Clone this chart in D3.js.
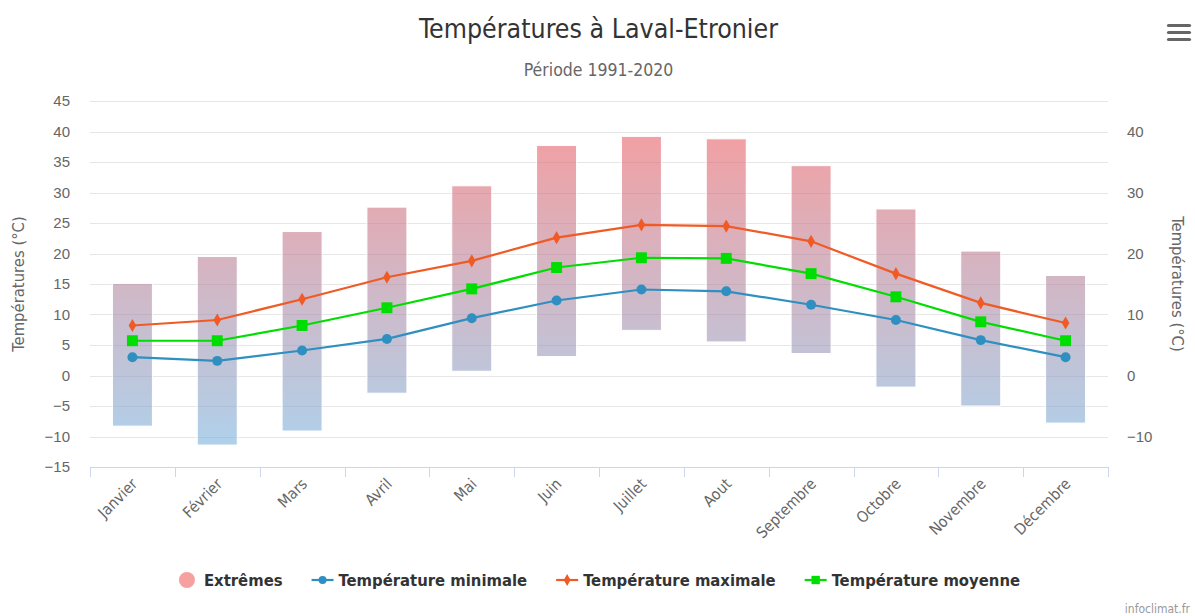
<!DOCTYPE html>
<html>
<head>
<meta charset="utf-8">
<script src="https://cdn.jsdelivr.net/npm/d3@7"></script>
<style>
  body { margin: 0; background: #fff; }
  svg { display: block; font-family: "DejaVu Sans Condensed", "DejaVu Sans", sans-serif; }
</style>
</head>
<body>
<script>
const months = ['Janvier', 'Février', 'Mars', 'Avril', 'Mai', 'Juin', 'Juillet', 'Aout', 'Septembre', 'Octobre', 'Novembre', 'Décembre'];
const extremeLow = [-8.3, -11.4, -9.1, -2.9, 0.7, 3.1, 7.4, 5.5, 3.6, -1.9, -5.0, -7.8];
const extremeHigh = [15.1, 19.5, 23.6, 27.6, 31.1, 37.7, 39.2, 38.8, 34.4, 27.3, 20.4, 16.4];
const tMin = [3.0, 2.4, 4.1, 6.0, 9.4, 12.3, 14.1, 13.8, 11.6, 9.1, 5.8, 3.0];
const tMax = [8.2, 9.1, 12.5, 16.1, 18.8, 22.6, 24.7, 24.5, 22.0, 16.7, 11.9, 8.6];
const tMoy = [5.7, 5.7, 8.2, 11.1, 14.2, 17.7, 19.3, 19.2, 16.7, 12.9, 8.8, 5.7];
const leftTicks = d3.range(-15, 46, 5);
const rightTicks = d3.range(-10, 41, 10);

const W = 1195, H = 616;
const m = {left: 90, right: 1108, top: 101, bottom: 467};

const svg = d3.select('body').append('svg')
  .attr('width', W)
  .attr('height', H);

const x = d3.scaleBand(months, [m.left, m.right]);
const y = d3.scaleLinear([-15, 45], [m.bottom, m.top]);

// gradient for the extremes columns
const grad = svg.append('defs').append('linearGradient')
  .attr('id', 'extGrad')
  .attr('gradientUnits', 'userSpaceOnUse')
  .attr('x1', 0).attr('x2', 0)
  .attr('y1', y(42)).attr('y2', y(-13));
grad.append('stop').attr('offset', 0).attr('stop-color', 'rgb(238,92,96)');
grad.append('stop').attr('offset', 1).attr('stop-color', 'rgb(118,180,225)');

// title
svg.append('text')
  .attr('x', W / 2 + 1).attr('y', 38)
  .attr('text-anchor', 'middle')
  .style('font-size', '26.5px').style('fill', '#333')
  .text('Températures à Laval-Etronier');
svg.append('text')
  .attr('x', W / 2 + 1).attr('y', 76)
  .attr('text-anchor', 'middle')
  .style('font-size', '17.5px').style('fill', '#666')
  .text('Période 1991-2020');

// gridlines
svg.append('g')
  .selectAll('line')
  .data(leftTicks.filter(d => d > -15))
  .enter().append('line')
    .attr('x1', m.left).attr('x2', m.right)
    .attr('y1', d => Math.round(y(d)) + 0.5)
    .attr('y2', d => Math.round(y(d)) + 0.5)
    .style('stroke', '#e6e6e6');

// left axis
const yLeft = svg.append('g')
  .attr('transform', `translate(${m.left - 20},0)`)
  .call(d3.axisLeft(y).tickValues(leftTicks).tickSize(0).tickPadding(0));
yLeft.select('.domain').remove();
yLeft.selectAll('text').style('font-size', '15px').style('fill', '#666').style('font-family', null);

// right axis
const yRight = svg.append('g')
  .attr('transform', `translate(${m.right + 19},0)`)
  .call(d3.axisRight(y).tickValues(rightTicks).tickSize(0).tickPadding(0));
yRight.select('.domain').remove();
yRight.selectAll('text').style('font-size', '15px').style('fill', '#666').style('font-family', null);

svg.append('text')
  .attr('transform', `translate(24,${(m.top + m.bottom) / 2}) rotate(-90)`)
  .attr('text-anchor', 'middle')
  .style('font-size', '16.5px').style('fill', '#666')
  .text('Températures (°C)');
svg.append('text')
  .attr('transform', `translate(1172,${(m.top + m.bottom) / 2}) rotate(90)`)
  .attr('text-anchor', 'middle')
  .style('font-size', '16.5px').style('fill', '#666')
  .text('Températures (°C)');

// x axis
const xAxis = svg.append('g')
  .attr('transform', `translate(0,${m.bottom})`);
xAxis.append('line')
  .attr('x1', m.left).attr('x2', m.right)
  .attr('y1', 0.5).attr('y2', 0.5)
  .style('stroke', '#ccd6eb');
xAxis.selectAll('line.tick')
  .data(months.map(d => x(d)).concat([m.right]))
  .enter().append('line')
    .attr('class', 'tick')
    .attr('x1', d => Math.round(d) + 0.5).attr('x2', d => Math.round(d) + 0.5)
    .attr('y1', 0).attr('y2', 10)
    .style('stroke', '#ccd6eb');
xAxis.selectAll('text')
  .data(months)
  .enter().append('text')
    .attr('transform', d => `translate(${x(d) + x.bandwidth() / 2 + 6},${18}) rotate(-45)`)
    .attr('text-anchor', 'end')
    .style('font-size', '15.5px').style('fill', '#666')
    .text(d => d);

// extremes columns
const barW = 40;
svg.append('g')
  .selectAll('rect')
  .data(months)
  .enter().append('rect')
    .attr('x', d => x(d) + x.bandwidth() / 2 - barW / 2)
    .attr('width', barW)
    .attr('y', (d, i) => y(extremeHigh[i]))
    .attr('height', (d, i) => y(extremeLow[i]) - y(extremeHigh[i]))
    .style('fill', 'url(#extGrad)')
    .style('fill-opacity', 0.6)
    .style('stroke', '#fff')
    .style('stroke-width', 1);

// lines
const cx = d => x(d) + x.bandwidth() / 2;
const series = [
  {name: 'Température minimale', values: tMin, color: '#2f8fc0', marker: 'circle'},
  {name: 'Température maximale', values: tMax, color: '#f05a24', marker: 'diamond'},
  {name: 'Température moyenne', values: tMoy, color: '#00dd00', marker: 'square'}
];
const symbolPath = {
  circle: d3.symbol(d3.symbolCircle, 78),
  diamond: d3.symbol(d3.symbolDiamond, 50),
  square: d3.symbol(d3.symbolSquare, 120)
};
const line = d3.line()
  .x((d, i) => cx(months[i]))
  .y(d => y(d));

series.forEach(s => {
  const g = svg.append('g');
  g.append('path')
    .attr('d', line(s.values))
    .style('fill', 'none')
    .style('stroke', s.color)
    .style('stroke-width', 2.2);
  g.selectAll('path.pt')
    .data(s.values)
    .enter().append('path')
      .attr('class', 'pt')
      .attr('transform', (d, i) => `translate(${cx(months[i])},${y(d)})`)
      .attr('d', symbolPath[s.marker])
      .style('fill', s.color);
});

// legend
const legend = svg.append('g');
const items = [{name: 'Extrêmes', color: 'rgb(246,160,160)', marker: 'bubble'}].concat(series);
let lx = 0;
items.forEach(s => {
  const it = legend.append('g').attr('transform', `translate(${lx},0)`);
  let tx;
  if (s.marker === 'bubble') {
    it.append('circle').attr('cx', 8).attr('cy', 0).attr('r', 8).style('fill', s.color);
    tx = 25;
  } else {
    it.append('line').attr('x1', 0).attr('x2', 22).attr('y1', 0).attr('y2', 0)
      .style('stroke', s.color).style('stroke-width', 2.2);
    it.append('path').attr('transform', 'translate(11,0)')
      .attr('d', s.marker === 'circle' ? d3.symbol(d3.symbolCircle, 50)
        : s.marker === 'diamond' ? d3.symbol(d3.symbolDiamond, 40) : d3.symbol(d3.symbolSquare, 70))
      .style('fill', s.color);
    tx = 27;
  }
  const t = it.append('text')
    .attr('x', tx).attr('y', 6)
    .style('font-size', '16.5px').style('font-weight', 'bold').style('fill', '#333')
    .text(s.name);
  lx += tx + t.node().getComputedTextLength() + 29;
});
const lw = lx - 29;
legend.attr('transform', `translate(${W / 2 + 2 - lw / 2},580)`);

// menu button
svg.append('g')
  .selectAll('line')
  .data([25.5, 32.5, 39.5])
  .enter().append('line')
    .attr('x1', 1168.5).attr('x2', 1189.5)
    .attr('y1', d => d).attr('y2', d => d)
    .style('stroke', '#666')
    .style('stroke-width', 3.2)
    .style('stroke-linecap', 'round');

// credits
svg.append('text')
  .attr('x', 1190).attr('y', 613)
  .attr('text-anchor', 'end')
  .style('font-size', '12px').style('fill', '#999')
  .text('infoclimat.fr');
</script>
</body>
</html>
